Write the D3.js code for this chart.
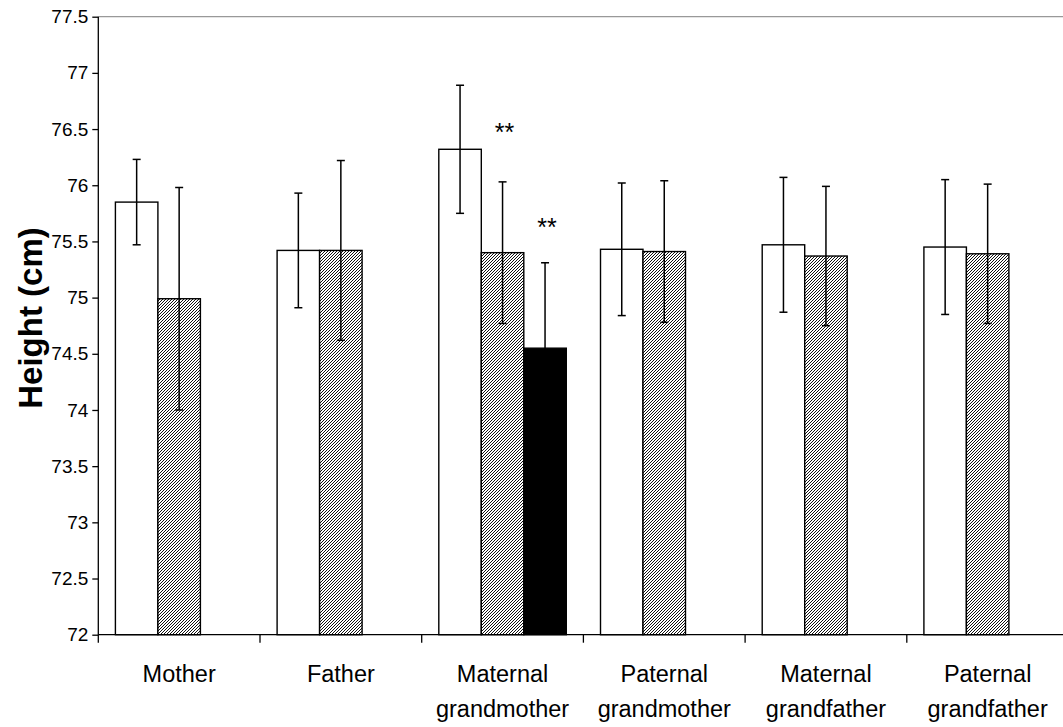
<!DOCTYPE html>
<html>
<head>
<meta charset="utf-8">
<script src="https://cdn.jsdelivr.net/npm/d3@7/dist/d3.min.js"></script>
<style>
  html, body { margin: 0; padding: 0; background: #fff; }
  svg { display: block; font-family: "Liberation Sans", Arial, sans-serif; }
</style>
</head>
<body>
<svg id="chart" width="1063" height="727"></svg>
<script>
// ---- data ----
const categories = ["Mother", "Father", "Maternal grandmother", "Paternal grandmother", "Maternal grandfather", "Paternal grandfather"];
const categoryLines = [["Mother"], ["Father"], ["Maternal", "grandmother"], ["Paternal", "grandmother"], ["Maternal", "grandfather"], ["Paternal", "grandfather"]];
const seriesNames = ["white", "hatched", "black"];
const whiteValues   = [75.85, 75.42, 76.32, 75.43, 75.47, 75.45];
const whiteErrors   = [0.38, 0.51, 0.57, 0.59, 0.60, 0.60];
const hatchedValues = [74.99, 75.42, 75.40, 75.41, 75.37, 75.39];
const hatchedErrors = [0.99, 0.80, 0.63, 0.63, 0.62, 0.62];
const blackValues   = [null, null, 74.55, null, null, null];
const blackErrors   = [null, null, 0.76, null, null, null];
const yTicks = [72, 72.5, 73, 73.5, 74, 74.5, 75, 75.5, 76, 76.5, 77, 77.5];
const annotations = [
  { group: 2, series: 1, value: 76.39, text: "**" },
  { group: 2, series: 2, value: 75.55, text: "**" }
];
const yTitle = "Height (cm)";

// ---- layout ----
const svg = d3.select("#chart");
const pL = 98.3, pR = 1068.5, pT = 16.7, pB = 634.7;

const y = d3.scaleLinear().domain([72, 77.5]).range([pB, pT]);
const x0 = d3.scaleBand().domain(categories).range([pL, pR]).padding(0);
const x1 = d3.scaleBand().domain(seriesNames).range([0, x0.bandwidth()]).paddingInner(0).paddingOuter(0.4025);

// hatch pattern
const defs = svg.append("defs");
const pat = defs.append("pattern").attr("id", "hatch").attr("patternUnits", "userSpaceOnUse")
  .attr("width", 3).attr("height", 3);
pat.append("rect").attr("width", 3).attr("height", 3).attr("fill", "#fff");
pat.append("path").attr("d", "M-1,1 L1,-1 M0,3 L3,0 M2,4 L4,2").attr("stroke", "#111").attr("stroke-width", 1.0);

const fills = { white: "#fff", hatched: "url(#hatch)", black: "#000" };

// top border of plot area
svg.append("line").attr("x1", pL).attr("x2", 1063).attr("y1", pT).attr("y2", pT)
  .attr("stroke", "#999").attr("stroke-width", 1.3);

// data records
const records = [];
categories.forEach((c, i) => {
  [[whiteValues, whiteErrors], [hatchedValues, hatchedErrors], [blackValues, blackErrors]].forEach((pair, s) => {
    const v = pair[0][i];
    if (v != null) records.push({ cat: c, series: seriesNames[s], value: v, err: pair[1][i] });
  });
});

// bars
svg.append("g").selectAll("rect").data(records).join("rect")
  .attr("x", d => x0(d.cat) + x1(d.series))
  .attr("y", d => y(d.value))
  .attr("width", x1.bandwidth())
  .attr("height", d => y(72) - y(d.value))
  .attr("fill", d => fills[d.series])
  .attr("stroke", "#000").attr("stroke-width", 1.4);

// error bars
const eg = svg.append("g").attr("stroke", "#000").attr("stroke-width", 1.5);
records.forEach(d => {
  const cx = x0(d.cat) + x1(d.series) + x1.bandwidth() / 2;
  const y1 = y(d.value + d.err), y2 = y(d.value - d.err);
  eg.append("line").attr("x1", cx).attr("x2", cx).attr("y1", y1).attr("y2", y2);
  eg.append("line").attr("x1", cx - 4).attr("x2", cx + 4).attr("y1", y1).attr("y2", y1);
  eg.append("line").attr("x1", cx - 4).attr("x2", cx + 4).attr("y1", y2).attr("y2", y2);
});

// annotations
svg.append("g").selectAll("text").data(annotations).join("text")
  .attr("x", d => x0(categories[d.group]) + x1(seriesNames[d.series]) + x1.bandwidth() / 2 + 2)
  .attr("y", d => y(d.value))
  .attr("text-anchor", "middle")
  .attr("font-size", 25)
  .text(d => d.text);

// y axis
const yAxis = d3.axisLeft(y).tickValues(yTicks).tickSize(6).tickPadding(4).tickFormat(d3.format("~g"));
const gy = svg.append("g").attr("transform", `translate(${pL},0)`).call(yAxis);
gy.select(".domain").attr("d", `M0,${pT}V${pB + 8}`).attr("stroke", "#000").attr("stroke-width", 1.3);
gy.selectAll(".tick line").attr("stroke", "#000").attr("stroke-width", 1.3);
gy.selectAll(".tick text").attr("font-size", 19).attr("fill", "#000")
  .attr("font-family", "'Liberation Sans', Arial, sans-serif");

// x axis line and ticks at group boundaries
const gx = svg.append("g").attr("stroke", "#000").attr("stroke-width", 1.3);
gx.append("line").attr("x1", pL).attr("x2", pR).attr("y1", pB).attr("y2", pB);
categories.forEach(c => {
  const bx = x0(c) + x0.bandwidth();
  gx.append("line").attr("x1", bx).attr("x2", bx).attr("y1", pB).attr("y2", pB + 8);
});

// category labels
const lab = svg.append("g").attr("font-size", 23.5).attr("text-anchor", "middle").attr("fill", "#000");
categories.forEach((c, i) => {
  const cx = x0(c) + x0.bandwidth() / 2;
  categoryLines[i].forEach((line, k) => {
    lab.append("text").attr("x", cx).attr("y", 682 + k * 34.5).text(line);
  });
});

// y title
svg.append("text")
  .attr("transform", `translate(42,318) rotate(-90)`)
  .attr("text-anchor", "middle")
  .attr("font-size", 33).attr("font-weight", "bold")
  .text(yTitle);
</script>
</body>
</html>
